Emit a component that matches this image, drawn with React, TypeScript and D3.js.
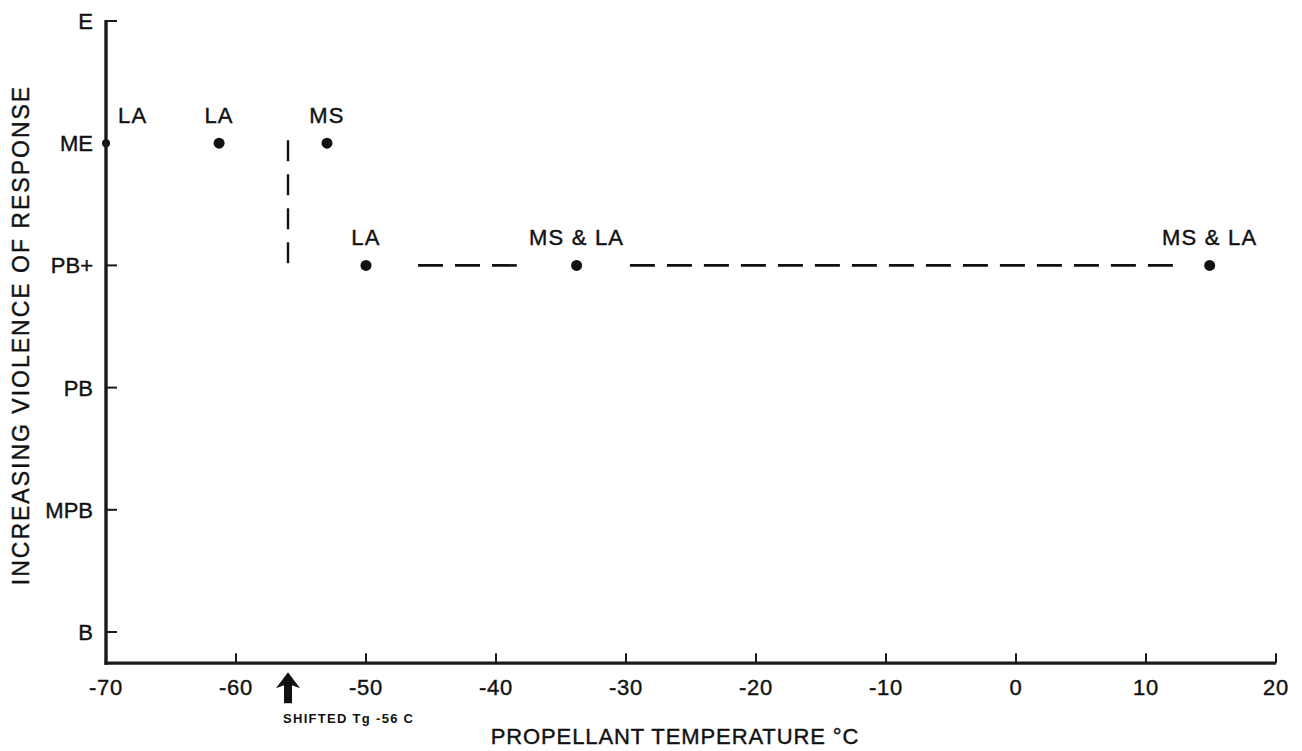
import { type RefObject, useEffect, useRef } from "react";
import * as d3 from "d3";

interface PointType {
  temp: number;
  level: string;
  label: string;
}

const levels = ["B", "MPB", "PB", "PB+", "ME", "E"];
const xTicks = [-70, -60, -50, -40, -30, -20, -10, 0, 10, 20];

const points: PointType[] = [
  { temp: -70, level: "ME", label: "LA" },
  { temp: -61.3, level: "ME", label: "LA" },
  { temp: -53, level: "ME", label: "MS" },
  { temp: -50, level: "PB+", label: "LA" },
  { temp: -33.8, level: "PB+", label: "MS & LA" },
  { temp: 14.9, level: "PB+", label: "MS & LA" },
];

// dashed guide lines: shifted Tg and the PB+ plateau
const tgLine = { temp: -56, from: "ME", to: "PB+" };
const plateauSegments = [
  [-46, -38.4],
  [-29.7, 12.2],
];
const shiftedTg = -56;

const FONT = "'Liberation Sans', Arial, sans-serif";
const INK = "#111";

const drawGraph = (svgRef: RefObject<SVGSVGElement>) => {
  const svg = d3
    .select(svgRef.current)
    .attr("width", 1302)
    .attr("height", 751)
    .style("display", "block")
    .style("background-color", "#ffffff");

  const xScale = d3.scaleLinear().domain([-70, 20]).range([106, 1276]);
  const yIndex = d3.scaleLinear().domain([0, 5]).range([632, 21]);
  const yScale = (lvl: string) => yIndex(levels.indexOf(lvl));
  const axisBottom = yIndex(-0.255);

  const group = svg.append("g");

  // dots first so the axis covers the one sitting on it
  group
    .append("g")
    .selectAll("circle")
    .data(points)
    .enter()
    .append("circle")
    .attr("cx", (d) => xScale(d.temp))
    .attr("cy", (d) => yScale(d.level))
    .attr("r", (d) => (d.temp === -70 ? 4 : 5.5))
    .style("fill", INK);

  group
    .append("g")
    .selectAll("text")
    .data(points)
    .enter()
    .append("text")
    .attr("x", (d) => (d.temp === -70 ? xScale(d.temp) + 12 : xScale(d.temp)))
    .attr("y", (d) => yScale(d.level) - 20)
    .attr("text-anchor", (d) => (d.temp === -70 ? "start" : "middle"))
    .style("font-family", FONT)
    .style("font-size", "22px")
    .style("letter-spacing", "1.2px")
    .style("fill", INK)
    .style("stroke", INK)
    .style("stroke-width", 0.4)
    .text((d) => d.label);

  // axes
  const axisColor = "#1a1a1a";
  group
    .append("line")
    .attr("x1", xScale(-70))
    .attr("x2", xScale(-70))
    .attr("y1", yIndex(5) - 1)
    .attr("y2", axisBottom + 1.5)
    .style("stroke", axisColor)
    .style("stroke-width", 3.4);
  group
    .append("line")
    .attr("x1", xScale(-70) - 1.5)
    .attr("x2", xScale(20))
    .attr("y1", axisBottom)
    .attr("y2", axisBottom)
    .style("stroke", axisColor)
    .style("stroke-width", 3.4);

  // y ticks + labels
  const yt = group.append("g").selectAll("g").data(levels).enter().append("g");
  yt.append("line")
    .attr("x1", xScale(-70))
    .attr("x2", xScale(-70) + 11)
    .attr("y1", (d) => yScale(d))
    .attr("y2", (d) => yScale(d))
    .style("stroke", axisColor)
    .style("stroke-width", (d) => (d === "ME" ? 0 : 2));
  yt.append("text")
    .attr("x", xScale(-70) - 13)
    .attr("y", (d) => yScale(d))
    .attr("dy", "0.36em")
    .attr("text-anchor", "end")
    .style("font-family", FONT)
    .style("font-size", "22px")
    .style("fill", INK)
    .style("stroke", INK)
    .style("stroke-width", 0.4)
    .text((d) => d);

  // x ticks + labels
  const xt = group.append("g").selectAll("g").data(xTicks).enter().append("g");
  xt.append("line")
    .attr("x1", (d) => xScale(d))
    .attr("x2", (d) => xScale(d))
    .attr("y1", axisBottom)
    .attr("y2", axisBottom - 10)
    .style("stroke", axisColor)
    .style("stroke-width", (d) => (d === -70 ? 0 : 2));
  xt.append("text")
    .attr("x", (d) => xScale(d))
    .attr("y", axisBottom + 24)
    .attr("dy", "0.36em")
    .attr("text-anchor", "middle")
    .style("font-family", FONT)
    .style("font-size", "22px")
    .style("letter-spacing", "0.8px")
    .style("fill", INK)
    .style("stroke", INK)
    .style("stroke-width", 0.4)
    .text((d) => String(d));

  // dashed lines
  group
    .append("line")
    .attr("x1", xScale(tgLine.temp))
    .attr("x2", xScale(tgLine.temp))
    .attr("y1", yScale(tgLine.from) - 3)
    .attr("y2", yScale(tgLine.to))
    .style("stroke", INK)
    .style("stroke-width", 2.4)
    .style("stroke-dasharray", "21,13");

  group
    .append("g")
    .selectAll("line")
    .data(plateauSegments)
    .enter()
    .append("line")
    .attr("x1", (d) => xScale(d[0]))
    .attr("x2", (d) => xScale(d[1]))
    .attr("y1", yScale("PB+"))
    .attr("y2", yScale("PB+"))
    .style("stroke", INK)
    .style("stroke-width", 2.6)
    .style("stroke-dasharray", "25,12");

  // shifted Tg arrow
  const ax = xScale(shiftedTg);
  const top = axisBottom + 9;
  group
    .append("path")
    .attr(
      "d",
      d3.line()([
        [ax, top],
        [ax + 12, top + 16],
        [ax + 4, top + 13],
        [ax + 4, top + 31],
        [ax - 4, top + 31],
        [ax - 4, top + 13],
        [ax - 12, top + 16],
      ]) + "Z"
    )
    .style("fill", INK);

  group
    .append("text")
    .attr("x", ax - 5)
    .attr("y", axisBottom + 60)
    .style("font-family", FONT)
    .style("font-size", "13px")
    .style("font-weight", "bold")
    .style("letter-spacing", "1.3px")
    .style("fill", INK)
    .text("SHIFTED Tg -56 C");

  // titles
  svg
    .append("text")
    .attr("x", 675)
    .attr("y", 744)
    .attr("text-anchor", "middle")
    .style("font-family", FONT)
    .style("font-size", "22px")
    .style("letter-spacing", "0.9px")
    .style("fill", INK)
    .style("stroke", INK)
    .style("stroke-width", 0.4)
    .text("PROPELLANT TEMPERATURE °C");

  svg
    .append("text")
    .attr("transform", "translate(29,335) rotate(-90)")
    .attr("text-anchor", "middle")
    .style("font-family", FONT)
    .style("font-size", "23px")
    .style("letter-spacing", "2px")
    .style("fill", INK)
    .style("stroke", INK)
    .style("stroke-width", 0.4)
    .text("INCREASING VIOLENCE OF RESPONSE");
};

const clearGraph = (svgRef: RefObject<SVGSVGElement>) => {
  d3.select(svgRef.current).selectAll("*").remove();
};

const App = () => {
  const svgRef = useRef<SVGSVGElement>(null);

  useEffect(() => {
    drawGraph(svgRef);
    return () => {
      clearGraph(svgRef);
    };
  }, [svgRef]);

  return (
    <div style={{ position: "absolute", left: 0, top: 0 }}>
      <svg ref={svgRef}></svg>
    </div>
  );
};

export default App;
